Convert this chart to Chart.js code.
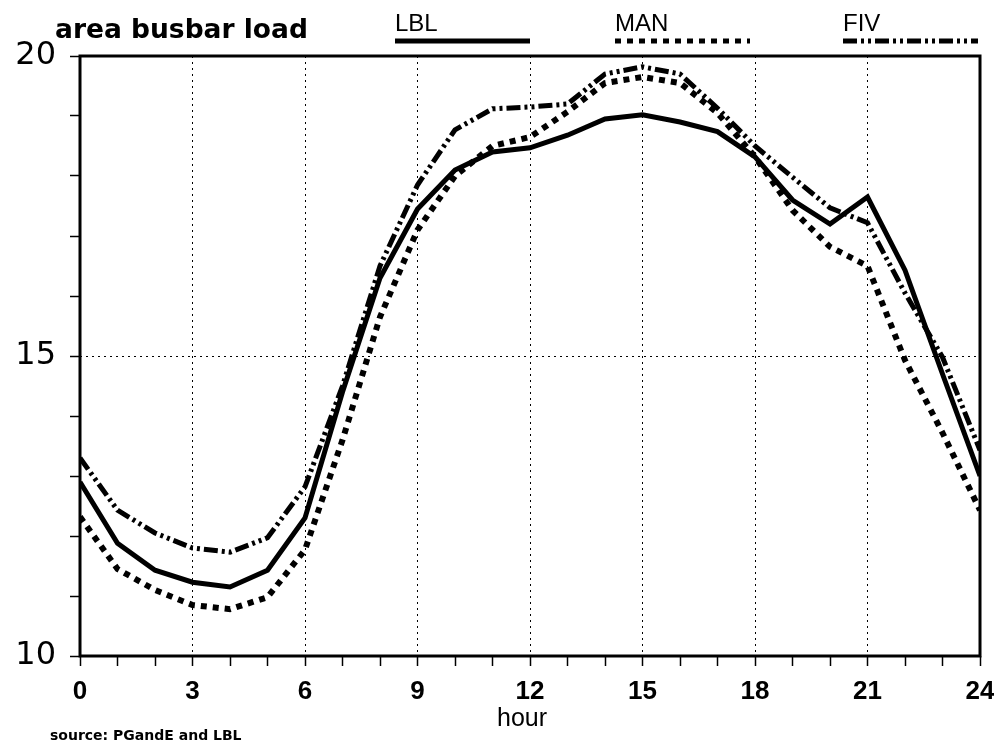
<!DOCTYPE html>
<html>
<head>
<meta charset="utf-8">
<script src="https://cdn.jsdelivr.net/npm/chart.js@4"></script>
<style>
  html, body { margin: 0; padding: 0; background: #fff; }
  #wrap { width: 994px; height: 746px; }
</style>
</head>
<body>
<div id="wrap"><canvas id="myChart"></canvas></div>
<script>
const hours = [0, 1, 2, 3, 4, 5, 6, 7, 8, 9, 10, 11, 12, 13, 14, 15, 16, 17, 18, 19, 20, 21, 22, 23, 24];
const lbl = [12.9, 11.88, 11.43, 11.23, 11.15, 11.43, 12.3, 14.4, 16.3, 17.45, 18.1, 18.4, 18.47, 18.68, 18.95, 19.02, 18.9, 18.74, 18.32, 17.6, 17.2, 17.65, 16.43, 14.7, 13.0];
const man = [12.32, 11.45, 11.1, 10.85, 10.78, 10.98, 11.77, 13.6, 15.65, 17.1, 18.0, 18.5, 18.65, 19.07, 19.55, 19.65, 19.55, 19.05, 18.32, 17.43, 16.82, 16.5, 14.93, 13.72, 12.43];
const fiv = [13.3, 12.43, 12.05, 11.8, 11.73, 11.97, 12.82, 14.5, 16.5, 17.85, 18.77, 19.12, 19.15, 19.2, 19.7, 19.82, 19.7, 19.13, 18.5, 17.98, 17.47, 17.22, 16.05, 14.98, 13.43];
const xLabels = [0, 3, 6, 9, 12, 15, 18, 21, 24];
const yLabels = [10, 15, 20];

const seriesNames = ['LBL', 'MAN', 'FIV'];
const dashes = [[], [6, 6], [14, 4, 3, 4, 3, 4]];

function pts(arr) {
  return hours.map((h, i) => ({ x: h, y: arr[i] }));
}

// title, legend, frame and footnotes
const decor = {
  id: 'decor',
  afterDraw(chart) {
    const c = chart.ctx;
    const a = chart.chartArea;
    c.save();
    c.strokeStyle = '#000';
    c.lineWidth = 3;
    c.setLineDash([]);
    c.strokeRect(a.left, a.top, a.right - a.left, a.bottom - a.top);

    c.fillStyle = '#000';
    c.textBaseline = 'alphabetic';
    c.font = 'bold 26.5px "DejaVu Sans"';
    c.fillText('area busbar load', 55, 38);

    const legX = [395, 615, 843];
    c.font = '24px "Liberation Sans", sans-serif';
    seriesNames.forEach((n, i) => {
      c.fillText(n, legX[i], 31);
      c.beginPath();
      c.lineWidth = 5;
      c.setLineDash(dashes[i]);
      c.moveTo(legX[i], 41);
      c.lineTo(legX[i] + 135, 41);
      c.stroke();
    });

    c.setLineDash([]);
    c.textAlign = 'center';
    c.font = '25px "Liberation Sans", sans-serif';
    c.fillText('hour', 522, 726);
    c.textAlign = 'left';
    c.font = 'bold 14px "DejaVu Sans", sans-serif';
    c.fillText('source: PGandE and LBL', 50, 740);
    c.restore();
  }
};

const ctx = document.getElementById('myChart');

new Chart(ctx, {
  type: 'line',
  data: {
    datasets: seriesNames.map((n, i) => ({
      label: n,
      data: pts([lbl, man, fiv][i]),
      borderColor: '#000',
      borderWidth: i === 1 ? 6 : 5,
      borderDash: dashes[i],
      borderCapStyle: 'butt',
      pointRadius: 0,
      tension: 0,
      fill: false
    }))
  },
  options: {
    responsive: true,
    maintainAspectRatio: false,
    animation: false,
    layout: { padding: { top: 56, right: 14, bottom: 38, left: 0 } },
    plugins: {
      legend: { display: false },
      tooltip: { enabled: false }
    },
    scales: {
      x: {
        type: 'linear',
        min: 0,
        max: 24,
        afterFit: s => { s.height = 52; s.paddingLeft = 0; s.paddingRight = 0; },
        border: { display: false, dash: [2, 4] },
        grid: {
          color: c => (c.tick && c.tick.value % 3 === 0 && c.tick.value > 0 && c.tick.value < 24) ? '#000' : 'rgba(0,0,0,0)',
          tickBorderDash: [],
          tickColor: '#000',
          tickWidth: 1.5,
          tickLength: 10
        },
        ticks: {
          stepSize: 1,
          autoSkip: false,
          maxRotation: 0,
          padding: 10,
          color: '#000',
          font: { family: '"Liberation Sans", sans-serif', size: 26, weight: 'bold' },
          callback: v => xLabels.includes(v) ? String(v) : ''
        }
      },
      y: {
        min: 10,
        max: 20,
        afterFit: s => { s.width = 80; s.paddingTop = 0; s.paddingBottom = 0; },
        border: { display: false, dash: [2, 4] },
        grid: {
          color: c => (c.tick && c.tick.value === 15) ? '#000' : 'rgba(0,0,0,0)',
          tickBorderDash: [],
          tickColor: '#000',
          tickWidth: 1.5,
          tickLength: 10
        },
        ticks: {
          stepSize: 1,
          autoSkip: false,
          padding: 14,
          color: '#000',
          font: { family: '"DejaVu Sans"', size: 32 },
          callback: v => yLabels.includes(v) ? String(v) : ''
        }
      }
    }
  },
  plugins: [decor]
});
</script>
</body>
</html>
